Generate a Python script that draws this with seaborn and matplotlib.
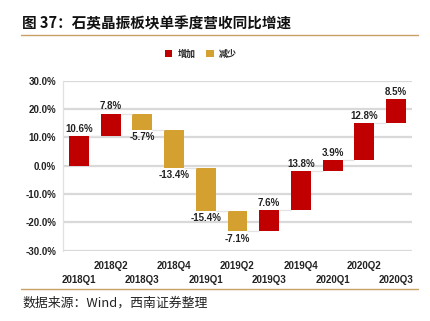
import numpy as np
import pandas as pd
import matplotlib
matplotlib.use("Agg")
import matplotlib.pyplot as plt
from matplotlib.patches import Patch
from matplotlib.lines import Line2D
import matplotlib.transforms as mtransforms
import seaborn as sns

quarters = ["2018Q1", "2018Q2", "2018Q3", "2018Q4", "2019Q1", "2019Q2",
            "2019Q3", "2019Q4", "2020Q1", "2020Q2", "2020Q3"]
changes = [10.6, 7.8, -5.7, -13.4, -15.4, -7.1, 7.6, 13.8, 3.9, 12.8, 8.5]
y_ticks = [-30, -20, -10, 0, 10, 20, 30]
title_text = "图 37：石英晶振板块单季度营收同比增速"
source_text = "数据来源：Wind，西南证券整理"
legend_labels = ["增加", "减少"]

RED = "#C00000"
GOLD = "#D4A030"
GRID = "#D9D9D9"

sns.set_theme(style="white")
plt.rcParams["font.family"] = ["Liberation Sans", "Noto Sans CJK SC", "DejaVu Sans"]

ch = np.array(changes)
end = np.cumsum(ch)
start = end - ch
df = pd.DataFrame({"quarter": quarters, "change": ch, "start": start, "end": end})
inc = df[df.change > 0]
dec = df[df.change < 0]

fig = plt.figure(figsize=(4.31, 3.21), dpi=100)
ax = fig.add_axes([63 / 431, 1 - 250.7 / 321, (412 - 63) / 431, (250.7 - 80.7) / 321])

sns.barplot(data=inc, x="quarter", y="change", order=quarters, color=RED,
            bottom=inc["start"].values, width=0.63, errorbar=None, ax=ax,
            saturation=1, linewidth=0)
sns.barplot(data=dec, x="quarter", y="change", order=quarters, color=GOLD,
            bottom=dec["start"].values, width=0.63, errorbar=None, ax=ax,
            saturation=1, linewidth=0)

# connectors
for i in range(len(quarters) - 1):
    ax.hlines(end[i], i + 0.315, i + 1 - 0.315, color="#E3E3E3", lw=0.9, zorder=1)

ax.set_ylim(-30, 30)
ax.set_xlim(-0.5, len(quarters) - 0.5)
ax.set_yticks(y_ticks)
ax.set_yticklabels([f"{v:.1f}%" for v in y_ticks], fontsize=7, fontweight="bold", color="#222222")
ax.tick_params(axis="y", length=0, pad=5)
ax.set_axisbelow(True)
ax.yaxis.grid(True, color=GRID, lw=1.6)
for s in ["top", "right", "bottom"]:
    ax.spines[s].set_visible(False)
ax.spines["left"].set_color("#E0E0E0")
ax.spines["left"].set_linewidth(0.9)
ax.set_xlabel("")
ax.set_ylabel("")

# staggered x labels
ax.set_xticks(range(len(quarters)))
ax.set_xticklabels([])
ax.tick_params(axis="x", length=0)
trans = mtransforms.blended_transform_factory(ax.transData, ax.transAxes)
for i, q in enumerate(quarters):
    off = -29 if i % 2 == 0 else -15
    ax.annotate(q, xy=(i, 0), xycoords=trans, xytext=(0, off), textcoords="offset pixels",
                ha="center", va="center", fontsize=7, fontweight="bold", color="#222222")

# data labels
for i, row in df.iterrows():
    if row.change > 0:
        ax.annotate(f"{row.change:.1f}%", xy=(i, row.end), xytext=(0, 1.5),
                    textcoords="offset points", ha="center", va="bottom",
                    fontsize=7, fontweight="bold", color="#222222")
    else:
        ax.annotate(f"{row.change:.1f}%", xy=(i, row.end), xytext=(0, -1.5),
                    textcoords="offset points", ha="center", va="top",
                    fontsize=7, fontweight="bold", color="#222222")

# title and decorations
fig.text(22 / 431, 1 - 23 / 321, title_text, fontsize=10.5, fontweight="bold",
         ha="left", va="center", color="#111111",
         family=["Noto Sans CJK SC", "DejaVu Sans"])
fig.add_artist(Line2D([21 / 431, 418 / 431], [1 - 35 / 321] * 2, color="#C9A063", lw=1.0))
fig.add_artist(Line2D([21 / 431, 418 / 431], [1 - 289 / 321] * 2, color="#C9A063", lw=1.0))
fig.text(22 / 431, 1 - 303 / 321, source_text, fontsize=9.3, style="italic",
         ha="left", va="center", color="#222222",
         family=["Noto Sans CJK SC", "DejaVu Sans"])

handles = [Patch(facecolor=RED, edgecolor="none"), Patch(facecolor=GOLD, edgecolor="none")]
leg = fig.legend(handles, legend_labels, loc="center", bbox_to_anchor=(201 / 431, 1 - 54 / 321),
                 ncol=2, frameon=False, handlelength=0.8, handleheight=0.8, handletextpad=0.6,
                 columnspacing=1.2,
                 prop={"family": ["Noto Sans CJK SC"], "size": 6.5, "weight": "bold"})
for t in leg.get_texts():
    t.set_color("#222222")

fig.savefig("out.png", dpi=100)
